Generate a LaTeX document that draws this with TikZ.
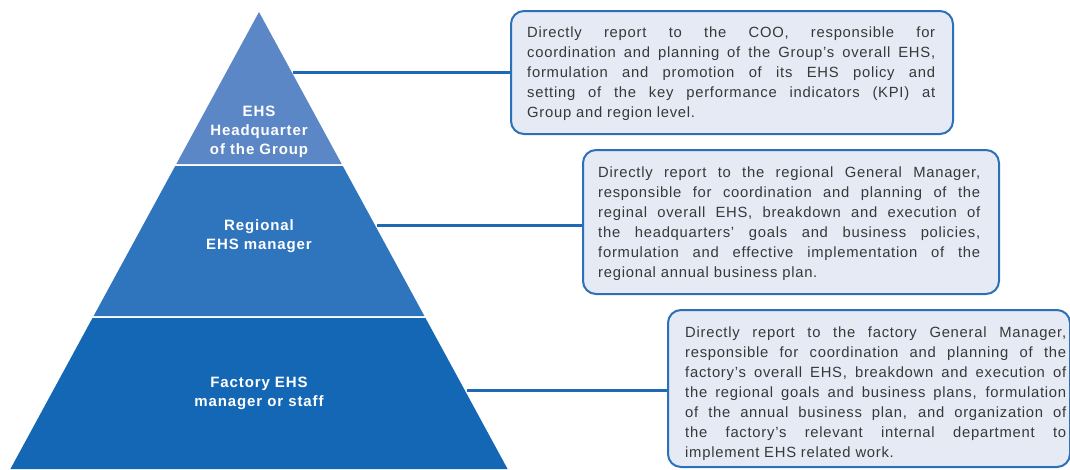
\documentclass[tikz,border=0pt]{standalone}
\usepackage{fontspec}
\setmainfont{Liberation Sans}
\usetikzlibrary{calc}
\definecolor{topc}{HTML}{5C87C6}
\definecolor{midc}{HTML}{2E75BE}
\definecolor{botc}{HTML}{1467B4}
\definecolor{connc}{HTML}{1E69B3}
\definecolor{boxline}{HTML}{2C70B8}
\definecolor{boxfill}{HTML}{E5EAF5}
\definecolor{txtc}{HTML}{383838}
\tikzset{
  tierlabel/.style={text=white, align=center, inner sep=0,
    font=\fontsize{15}{19}\selectfont\bfseries\addfontfeatures{LetterSpace=6}},
  conn/.style={draw=connc, line width=3},
  descbox/.style={draw=boxline, fill=boxfill, line width=2, rounded corners=13, inner sep=0, anchor=north west},
  desctext/.style={text=txtc, align=justify, inner sep=0, anchor=base west,
    font=\fontsize{14.8}{20}\selectfont\addfontfeatures{LetterSpace=5}}
}
\begin{document}
\begin{tikzpicture}[x=1pt,y=-1pt]
\useasboundingbox (0,0) rectangle (1070,469);
% pyramid tiers
\fill[topc] (259,12) -- (341.7,164) -- (176.3,164) -- cycle;
\fill[midc] (175.2,166) -- (342.8,166) -- (424.4,316) -- (93.6,316) -- cycle;
\fill[botc] (92.5,318) -- (425.5,318) -- (507.6,469) -- (10.4,469) -- cycle;
% tier labels
\node[tierlabel] (l1) at (259,132) {EHS\\Headquarter\\of the Group};
\node[tierlabel] (l2) at (259,236.5) {Regional\\EHS manager};
\node[tierlabel] (l3) at (259,393) {Factory EHS\\manager or staff};
% boxes
\node[descbox, minimum width=442, minimum height=123] (b1) at (510,10) {};
\node[descbox, minimum width=416, minimum height=144] (b2) at (582,149) {};
\node[descbox, minimum width=402, minimum height=157] (b3) at (667,309) {};
% box texts
\node[desctext, text width=408] (t1) at (527,37.5) {Directly report to the COO, responsible for\linebreak coordination and planning of the Group’s overall EHS,\linebreak formulation and promotion of its EHS policy and\linebreak setting of the key performance indicators (KPI) at\linebreak Group and region level.};
\node[desctext, text width=382] (t2) at (598,177) {Directly report to the regional General Manager,\linebreak responsible for coordination and planning of the\linebreak reginal overall EHS, breakdown and execution of\linebreak the headquarters’ goals and business policies,\linebreak formulation and effective implementation of the\linebreak regional annual business plan.};
\node[desctext, text width=381] (t3) at (685,337) {Directly report to the factory General Manager,\linebreak responsible for coordination and planning of the\linebreak factory’s overall EHS, breakdown and execution of\linebreak the regional goals and business plans, formulation\linebreak of the annual business plan, and organization of\linebreak the factory’s relevant internal department to\linebreak implement EHS related work.};
% connectors
\coordinate (e1) at (293,72);
\coordinate (e2) at (377,225);
\coordinate (e3) at (467,390);
\draw[conn] (e1) -- (e1 -| b1.west);
\draw[conn] (e2) -- (e2 -| b2.west);
\draw[conn] (e3) -- (e3 -| b3.west);
\end{tikzpicture}
\end{document}
